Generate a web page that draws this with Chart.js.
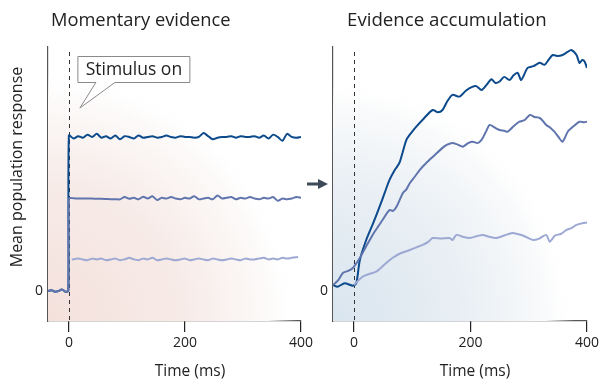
<!DOCTYPE html>
<html>
<head>
<meta charset="utf-8">
<script src="https://cdn.jsdelivr.net/npm/chart.js@4.4.1/dist/chart.umd.min.js"></script>
<style>
  body { margin: 0; background: #fff; }
  #wrap { position: relative; width: 601px; height: 385px; overflow: hidden; font-family: "Open Sans", sans-serif; color: #222; }
  canvas { position: absolute; top: 0; }
  .txt { position: absolute; white-space: nowrap; line-height: 1; }
</style>
</head>
<body>
<div id="wrap">
  <canvas id="leftChart" width="322" height="385" style="left:0"></canvas>
  <canvas id="rightChart" width="301" height="385" style="left:300px"></canvas>
  <div class="txt" style="left:51px; top:10px; font-size:18.3px;">Momentary evidence</div>
  <div class="txt" style="left:347px; top:10px; font-size:18.7px;">Evidence accumulation</div>
  <div class="txt" style="left:190px; top:363px; font-size:15.5px; transform:translateX(-50%);">Time (ms)</div>
  <div class="txt" style="left:475px; top:363px; font-size:15.5px; transform:translateX(-50%);">Time (ms)</div>
  <svg style="position:absolute; left:305px; top:176px" width="26" height="16">
    <line x1="2" y1="8" x2="16" y2="8" stroke="#3b4a56" stroke-width="3"/>
    <polygon points="13,3 23,8 13,13" fill="#3b4a56"/>
  </svg>
</div>
<script>
// ---------- data ----------
const xTicks = [0, 200, 400];
const yTicks = [0];
const calloutText = "Stimulus on";
const yLabel = "Mean population response";

// left panel: momentary evidence
const leftPreT = [-36, -30, -24, -18, -12, -6, -1];
const leftPreV = [0.0, 0.005, -0.005, 0.0, 0.01, -0.005, 0.0];

const leftPostT = [0, 8, 16, 24, 32, 40, 48, 56, 64, 72, 80, 88, 96, 104, 112, 120, 128, 136, 144, 152,
  160, 168, 176, 184, 192, 200, 208, 216, 224, 232, 240, 248, 256, 264, 272, 280, 288, 296, 304, 312,
  320, 328, 336, 344, 352, 360, 368, 376, 384, 392, 400];
const leftStrong = [1.01, 0.99, 1.005, 0.995, 1.015, 1.0, 1.02, 0.995, 1.005, 0.99, 1.01, 0.985, 1.005, 1.0, 0.99, 1.01, 0.995, 1.0, 1.005, 0.995,
  1.0, 1.01, 1.0, 0.995, 1.005, 1.0, 1.0, 0.995, 1.0, 1.025, 1.005, 0.985, 0.995, 1.0, 1.0, 1.005, 0.995, 1.005, 1.0, 1.0,
  1.005, 0.995, 1.01, 0.99, 1.015, 1.0, 0.975, 1.02, 1.0, 0.995, 1.0];
const leftMedium = [0.6, 0.602, 0.6, 0.6, 0.6, 0.6, 0.598, 0.598, 0.597, 0.596, 0.596, 0.595, 0.61, 0.598, 0.605, 0.595, 0.612, 0.6, 0.615, 0.59,
  0.605, 0.6, 0.61, 0.6, 0.595, 0.605, 0.6, 0.615, 0.595, 0.6, 0.605, 0.595, 0.62, 0.6, 0.605, 0.61, 0.595, 0.605, 0.6, 0.61,
  0.6, 0.595, 0.605, 0.6, 0.61, 0.585, 0.6, 0.595, 0.6, 0.61, 0.605];
const leftWeakT = [5, 16, 24, 32, 40, 48, 56, 64, 72, 80, 88, 96, 104, 112, 120, 128, 136, 144, 152,
  160, 168, 176, 184, 192, 200, 208, 216, 224, 232, 240, 248, 256, 264, 272, 280, 288, 296, 304, 312,
  320, 328, 336, 344, 352, 360, 368, 376, 384, 395];
const leftWeak = [0.205, 0.21, 0.205, 0.2, 0.21, 0.205, 0.21, 0.2, 0.205, 0.21, 0.2, 0.205, 0.215, 0.205, 0.2, 0.21, 0.205, 0.215, 0.2,
  0.205, 0.21, 0.205, 0.2, 0.205, 0.21, 0.2, 0.205, 0.21, 0.205, 0.2, 0.21, 0.205, 0.2, 0.205, 0.21, 0.205, 0.2, 0.21, 0.205,
  0.205, 0.21, 0.215, 0.205, 0.21, 0.205, 0.215, 0.21, 0.215, 0.22];

// right panel: evidence accumulation
const rightStrongT = [-36, -28, -16, -2, 4, 10, 21, 33, 44, 53, 61, 70, 78, 90, 99, 107, 120, 135, 144, 152, 160, 169, 181, 192, 202,
  210, 219, 228, 236, 243, 250, 258, 267, 274, 281, 287, 298, 308, 319, 327, 334, 341, 350, 358, 366, 373, 382, 387, 392, 396, 400];
const rightStrong = [0.039, 0.028, 0.05, 0.034, 0.05, 0.2, 0.331, 0.44, 0.547, 0.64, 0.721, 0.786, 0.831, 0.981, 1.03, 1.067, 1.12, 1.175, 1.16, 1.175, 1.23, 1.273, 1.262, 1.3, 1.323,
  1.33, 1.305, 1.34, 1.375, 1.35, 1.36, 1.39, 1.37, 1.4, 1.416, 1.37, 1.448, 1.46, 1.481, 1.468, 1.5, 1.532, 1.525, 1.532, 1.55, 1.565, 1.532, 1.481, 1.5, 1.489, 1.448];
const rightMediumT = [-36, -27, -19, -10, -2, 10, 21, 32, 40, 49, 61, 67, 73, 84, 90, 96, 104, 113, 124, 138, 152, 160, 169, 178, 187,
  196, 204, 212, 219, 226, 233, 242, 250, 258, 264, 274, 284, 293, 302, 310, 319, 325, 330, 337, 344, 351, 358, 367, 377, 387, 395, 400];
const rightMedium = [0.039, 0.07, 0.117, 0.13, 0.149, 0.214, 0.29, 0.364, 0.41, 0.461, 0.526, 0.52, 0.547, 0.636, 0.66, 0.701, 0.74, 0.786, 0.831, 0.88, 0.929, 0.95, 0.961, 0.95, 0.937,
  0.96, 0.969, 0.96, 0.981, 1.03, 1.078, 1.06, 1.045, 1.04, 1.034, 1.07, 1.099, 1.11, 1.143, 1.13, 1.123, 1.1, 1.078, 1.06, 1.034, 1.0, 0.969, 1.034, 1.07, 1.099, 1.095, 1.099];
const rightWeakT = [0, 8, 15, 26, 38, 52, 66, 80, 96, 108, 118, 128, 135, 150, 164, 169, 176, 188, 199, 210, 221, 232, 244, 258, 272,
  290, 307, 318, 330, 336, 345, 355, 365, 374, 382, 392, 400];
const rightWeak = [0.039, 0.07, 0.093, 0.11, 0.125, 0.17, 0.214, 0.245, 0.266, 0.285, 0.299, 0.32, 0.344, 0.34, 0.344, 0.331, 0.364, 0.35, 0.344, 0.355, 0.364, 0.352, 0.344, 0.36, 0.377,
  0.36, 0.331, 0.34, 0.364, 0.32, 0.36, 0.37, 0.396, 0.41, 0.429, 0.44, 0.444];

// ---------- helpers ----------
function pts(ts, vs) {
  return ts.map((t, i) => ({ x: t, y: vs[i] }));
}

const colStrong = '#0c4a8c';
const colMedium = '#6075ad';
const colWeak = '#9da9d3';

function lineSet(data, color) {
  return {
    data: data,
    borderColor: color,
    borderWidth: 2,
    pointRadius: 0,
    tension: 0.25,
    fill: false
  };
}

// background glow + dashed stimulus line + callout + y label
const panelDecor = {
  id: 'panelDecor',
  beforeDatasetsDraw(chart, args, opts) {
    const { ctx, chartArea: a, scales } = chart;
    ctx.save();
    const g = ctx.createRadialGradient(a.left, a.bottom, 0, a.left, a.bottom, opts.radius);
    g.addColorStop(0, opts.c0);
    g.addColorStop(0.55, opts.c1);
    g.addColorStop(0.88, opts.c2);
    g.addColorStop(1, 'rgba(255,255,255,0)');
    ctx.fillStyle = g;
    ctx.fillRect(a.left, a.top, a.right - a.left, a.bottom - a.top);

    const x0 = Math.round(scales.x.getPixelForValue(0)) + 0.5;
    ctx.strokeStyle = '#333';
    ctx.lineWidth = 1;
    ctx.setLineDash([4, 4]);
    ctx.beginPath();
    ctx.moveTo(x0, a.top + 5);
    ctx.lineTo(x0, a.bottom);
    ctx.stroke();
    ctx.restore();
  },
  afterDatasetsDraw(chart, args, opts) {
    if (!opts.callout) return;
    const { ctx, scales } = chart;
    const x0 = scales.x.getPixelForValue(0);
    ctx.save();
    const bx = x0 + 9, by = 56.5, bw = 112, bh = 26;
    ctx.fillStyle = '#fff';
    ctx.strokeStyle = '#8a8a8a';
    ctx.lineWidth = 1;
    ctx.beginPath();
    ctx.moveTo(bx, by);
    ctx.lineTo(bx + bw, by);
    ctx.lineTo(bx + bw, by + bh);
    ctx.lineTo(bx + 37, by + bh);
    ctx.lineTo(x0 + 11, 108);
    ctx.lineTo(bx + 18, by + bh);
    ctx.lineTo(bx, by + bh);
    ctx.closePath();
    ctx.fill();
    ctx.stroke();
    ctx.fillStyle = '#222';
    ctx.font = '17.5px "Open Sans"';
    ctx.textAlign = 'center';
    ctx.textBaseline = 'middle';
    ctx.fillText(calloutText, bx + bw / 2, by + bh / 2 + 0.5);

    // rotated y label, centred on the left edge
    ctx.translate(17, 167);
    ctx.rotate(-Math.PI / 2);
    ctx.font = '16px "Open Sans"';
    ctx.fillText(yLabel, 0, 0);
    ctx.restore();
  }
};

function makeOptions(yWidth, padRight, decor) {
  return {
    responsive: false,
    animation: false,
    layout: { padding: { top: 47, right: padRight, left: 0, bottom: 0 } },
    plugins: {
      legend: { display: false },
      tooltip: { enabled: false },
      panelDecor: decor
    },
    scales: {
      x: {
        type: 'linear',
        min: -36,
        max: 400,
        afterBuildTicks: s => { s.ticks = xTicks.map(v => ({ value: v })); },
        afterFit: s => { s.height = 64; s.paddingLeft = 0; s.paddingRight = 0; },
        grid: { display: true, drawOnChartArea: false, drawTicks: true, tickLength: 11, color: '#222', lineWidth: 1.2 },
        border: { display: true, color: '#555', width: 1.2 },
        ticks: { color: '#222', font: { family: 'Open Sans', size: 14 }, padding: 3, maxRotation: 0 }
      },
      y: {
        type: 'linear',
        min: -0.195,
        max: 1.584,
        afterBuildTicks: s => { s.ticks = yTicks.map(v => ({ value: v })); },
        afterFit: s => { s.width = yWidth; s.paddingTop = 0; s.paddingBottom = 0; },
        grid: { display: false, drawTicks: false },
        border: { display: true, color: '#555', width: 1.2 },
        ticks: { color: '#222', font: { family: 'Open Sans', size: 14 }, padding: 5 }
      }
    }
  };
}

new Chart(document.getElementById('leftChart'), {
  type: 'line',
  data: {
    datasets: [
      lineSet(pts(leftWeakT, leftWeak), colWeak),
      lineSet(pts(leftPreT.concat(leftPostT), leftPreV.concat(leftMedium)), colMedium),
      lineSet(pts(leftPreT.concat(leftPostT), leftPreV.concat(leftStrong)), colStrong)
    ]
  },
  options: makeOptions(48, 21, { radius: 250, c0: '#f4e1dc', c1: '#f7ebe8', c2: '#fcfaf9', callout: true }),
  plugins: [panelDecor]
});

new Chart(document.getElementById('rightChart'), {
  type: 'line',
  data: {
    datasets: [
      lineSet(pts(rightWeakT, rightWeak), colWeak),
      lineSet(pts(rightMediumT, rightMedium), colMedium),
      lineSet(pts(rightStrongT, rightStrong), colStrong)
    ]
  },
  options: makeOptions(33, 14, { radius: 242, c0: '#d9e5ef', c1: '#e9eff4', c2: '#f9fafb', callout: false }),
  plugins: [panelDecor]
});
</script>
</body>
</html>
